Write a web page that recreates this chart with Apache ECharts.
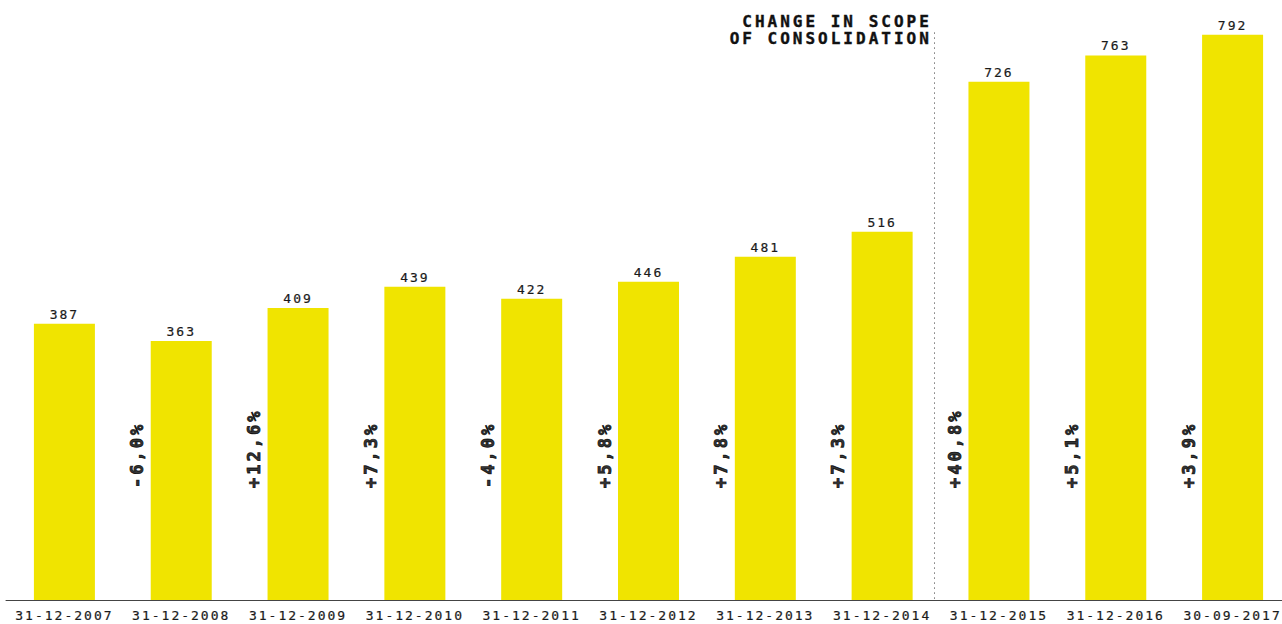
<!DOCTYPE html>
<html>
<head>
<meta charset="utf-8">
<script src="https://cdn.jsdelivr.net/npm/echarts@6/dist/echarts.min.js"></script>
<style>
  html, body { margin: 0; padding: 0; background: #fff; }
  #chart { width: 1282px; height: 624px; }
  /* letter spaced monospace look */
  #chart text { letter-spacing: 2px; }
  #chart text[style*="bold"], #chart text[font-weight="bold"] { letter-spacing: 3px; }
</style>
</head>
<body>
<div id="chart"></div>
<script>
const categories = ['31-12-2007', '31-12-2008', '31-12-2009', '31-12-2010', '31-12-2011', '31-12-2012',
  '31-12-2013', '31-12-2014', '31-12-2015', '31-12-2016', '30-09-2017']
const values = [387, 363, 409, 439, 422, 446, 481, 516, 726, 763, 792]
const changes = ['', '-6,0%', '+12,6%', '+7,3%', '-4,0%', '+5,8%', '+7,8%', '+7,3%', '+40,8%', '+5,1%', '+3,9%']

const MONO = "'DejaVu Sans Mono', 'Liberation Mono', monospace"
// height (in axis units) where the rotated change labels start
const changeAnchor = 157
// scope change sits just before the 2015 column (category index units)
const scopeChangeAt = 7.45

const chart = echarts.init(document.getElementById('chart'), null, { renderer: 'svg' })

const option = {
  animation: false,
  backgroundColor: '#ffffff',
  grid: {
    left: 6,
    top: 29,
    width: 1285,
    bottom: 24,
    outerBoundsMode: 'none'
  },
  xAxis: [
    {
      type: 'category',
      data: categories,
      axisTick: { show: false },
      axisLine: { lineStyle: { color: '#444444', width: 1 } },
      axisLabel: {
        color: '#1a1a1a',
        fontFamily: MONO,
        fontSize: 13,
        margin: 9,
        interval: 0,
        textBorderColor: '#1a1a1a',
        textBorderWidth: 0.2
      }
    },
    {
      // hidden helper axis in category-index units, used for the dotted marker
      type: 'value',
      min: -0.5,
      max: categories.length - 0.5,
      show: false
    }
  ],
  yAxis: {
    type: 'value',
    min: 0,
    max: 800,
    show: false,
    splitLine: { show: false }
  },
  graphic: [
    {
      type: 'text',
      right: 350,
      top: 13,
      style: {
        text: 'CHANGE IN SCOPE\nOF CONSOLIDATION',
        fill: '#111111',
        font: 'bold 16px ' + MONO,
        textAlign: 'right',
        lineHeight: 17,
        stroke: '#111111',
        lineWidth: 0.4
      }
    }
  ],
  series: [
    {
      type: 'bar',
      data: values,
      barWidth: 61,
      itemStyle: { color: '#F0E400' },
      label: {
        show: true,
        position: 'top',
        distance: 3,
        color: '#1a1a1a',
        fontFamily: MONO,
        fontSize: 13,
        textBorderColor: '#1a1a1a',
        textBorderWidth: 0.2
      }
    },
    {
      type: 'line',
      xAxisIndex: 1,
      data: [],
      markLine: {
        silent: true,
        symbol: 'none',
        label: { show: false },
        lineStyle: { color: '#333333', type: [1, 4], width: 1 },
        data: [[{ coord: [scopeChangeAt, 800 - 5] }, { coord: [scopeChangeAt, 0] }]]
      }
    },
    {
      type: 'scatter',
      symbolSize: 0,
      data: changes.map((c, i) => [i, changeAnchor]),
      label: {
        show: true,
        position: 'inside',
        rotate: 90,
        align: 'left',
        verticalAlign: 'middle',
        offset: [0, -44],
        color: '#000000',
        fontFamily: MONO,
        fontWeight: 'bold',
        fontSize: 17,
        textBorderColor: '#000000',
        textBorderWidth: 0.9
      }
    }
  ]
}

option.series[2].label.formatter = p => changes[p.dataIndex]

chart.setOption(option)
window.addEventListener('resize', () => chart.resize())
</script>
</body>
</html>
